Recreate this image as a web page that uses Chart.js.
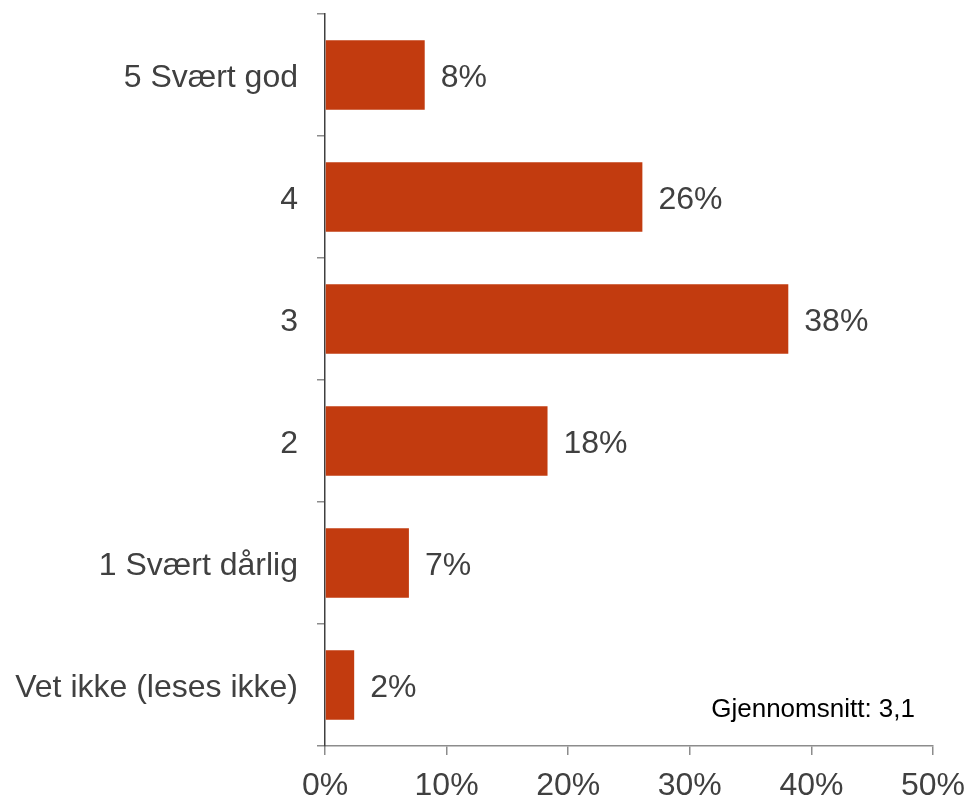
<!DOCTYPE html>
<html>
<head>
<meta charset="utf-8">
<script src="https://cdn.jsdelivr.net/npm/chart.js@4"></script>
<style>
html,body{margin:0;padding:0;background:#fff;}
#wrap{width:968px;height:799px;position:relative;}
</style>
</head>
<body>
<div id="wrap"><canvas id="c"></canvas></div>
<script>
const categories = ["5 Svært god", "4", "3", "2", "1 Svært dårlig", "Vet ikke (leses ikke)"];
const values = [8.2, 26.1, 38.1, 18.3, 6.9, 2.4];
const valueLabels = ["8%", "26%", "38%", "18%", "7%", "2%"];
const xTicks = [0, 10, 20, 30, 40, 50];
const averageText = "Gjennomsnitt: 3,1";

const FONT = "'Liberation Sans', Arial, sans-serif";

const valueLabelPlugin = {
  id: 'valueLabels',
  afterDatasetsDraw(chart) {
    const ctx = chart.ctx;
    const meta = chart.getDatasetMeta(0);
    ctx.save();
    ctx.font = "32px " + FONT;
    ctx.fillStyle = "#404040";
    ctx.textAlign = "left";
    ctx.textBaseline = "middle";
    meta.data.forEach((bar, i) => {
      ctx.fillText(valueLabels[i], bar.x + 16, bar.y + 3);
    });
    const a = chart.chartArea;
    ctx.font = "26px " + FONT;
    ctx.fillStyle = "#000";
    ctx.textAlign = "right";
    ctx.fillText(averageText, a.right - 18, a.bottom - 36);
    ctx.restore();
  }
};

new Chart(document.getElementById('c'), {
  type: 'bar',
  data: {
    labels: categories,
    datasets: [{
      data: values,
      backgroundColor: '#C23B0F',
      borderWidth: 0,
      categoryPercentage: 0.57,
      barPercentage: 1.0
    }]
  },
  options: {
    indexAxis: 'y',
    responsive: true,
    maintainAspectRatio: false,
    animation: false,
    devicePixelRatio: 1,
    layout: { padding: { top: 14, right: 35, left: 0, bottom: 0 } },
    plugins: { legend: { display: false }, tooltip: { enabled: false } },
    scales: {
      x: {
        min: 0, max: 50,
        afterFit(s) { s.height = 53; s.paddingLeft = 0; s.paddingRight = 0; },
        afterBuildTicks(s) { s.ticks = xTicks.map(v => ({ value: v })); },
        grid: { drawOnChartArea: false, drawTicks: true, tickLength: 9, color: '#8c8c8c', lineWidth: 1.5 },
        border: { color: '#8c8c8c', width: 1.5 },
        ticks: {
          color: '#404040',
          font: { family: FONT, size: 32 },
          padding: 12,
          maxRotation: 0,
          callback: v => v + '%'
        }
      },
      y: {
        afterFit(s) { s.width = 325; s.paddingTop = 0; s.paddingBottom = 0; },
        grid: { drawOnChartArea: false, drawTicks: true, tickLength: 8, color: '#8c8c8c', offset: true, lineWidth: 1.5 },
        border: { color: '#404040', width: 1.5 },
        ticks: {
          color: '#404040',
          font: { family: FONT, size: 32 },
          padding: 19,
          labelOffset: 3
        }
      }
    }
  },
  plugins: [valueLabelPlugin]
});
</script>
</body>
</html>
